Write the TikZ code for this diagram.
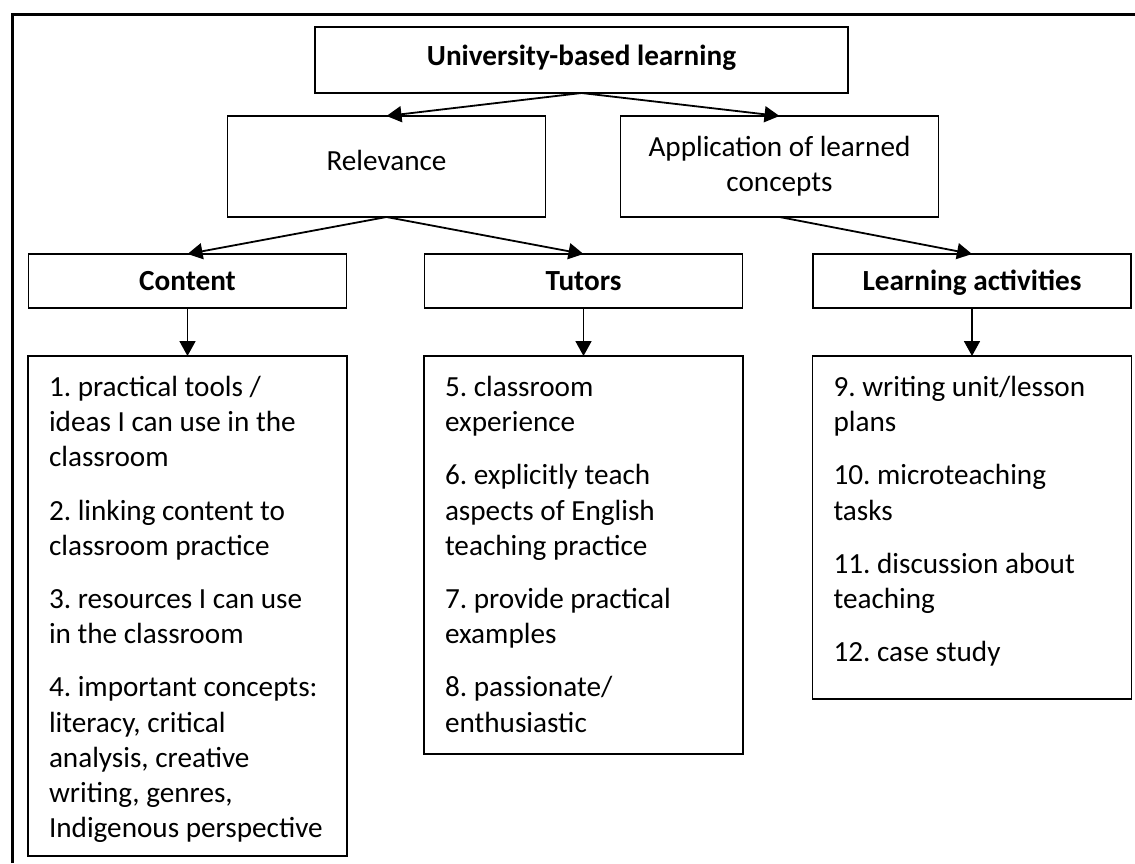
\documentclass[tikz,border=0pt]{standalone}
\usepackage{fontspec}
\setmainfont{Carlito}
\frenchspacing
\usetikzlibrary{arrows.meta,positioning}
\tikzset{
  basic/.style   = {draw, rectangle, outer sep=0pt, inner sep=0pt,
                    font=\fontsize{29.2}{35.2}\selectfont},
  root/.style    = {basic, font=\fontsize{29.2}{35.2}\selectfont\bfseries,
                    text height=18pt, text depth=8pt,
                    minimum width=533pt, minimum height=66pt},
  level 2/.style = {basic, align=flush center, minimum width=318pt, minimum height=101pt},
  level 3/.style = {basic, font=\fontsize{29.2}{35.2}\selectfont\bfseries,
                    text height=22pt, text depth=4pt,
                    minimum width=318pt, minimum height=54pt},
  level 4/.style = {basic, align=flush left, text width=277pt, inner xsep=21pt,
                    inner ysep=15.5pt, text height=25pt}
}

\begin{document}
\begin{tikzpicture}[x=1pt, y=-1pt, line width=1.8pt,
  >={Triangle[length=15pt,width=16pt]}]
\useasboundingbox (0,0) rectangle (1135,863);
% frame, cut off at the right and at the bottom
\draw[line width=3pt] (12,863) -- (12,14) -- (1135,14);

% root of the tree
\node[root] (u) at (581.5,60) {University-based learning};

% second level
\node[level 2, below=23pt of u, xshift=-195pt] (u1) {\raisebox{13pt}{Relevance}};
\node[level 2, below=23pt of u, xshift=198pt] (u2) {Application of learned\\concepts};

% third level, the headings
\node[level 3, below=37pt of u1, xshift=-199pt] (c1) {Content};
\node[level 3, below=37pt of u1, xshift=197pt] (c2) {Tutors};
\node[level 3, below=37pt of u2, xshift=192.5pt] (c3) {Learning activities};

% the lists under each heading
\node[level 4, below=48pt of c1, text depth=444pt] (c11)
  {1. practical tools /\\ideas I can use in the\\classroom\\[18pt]
   2. linking content to\\classroom practice\\[18pt]
   3. resources I can use\\in the classroom\\[18pt]
   4. important concepts:\\literacy, critical\\analysis, creative\\writing, genres,\\Indigenous perspective};
\node[level 4, below=48pt of c2, text depth=342pt] (c21)
  {5. classroom\\experience\\[18pt]
   6. explicitly teach\\aspects of English\\teaching practice\\[18pt]
   7. provide practical\\examples\\[18pt]
   8. passionate/\\enthusiastic};
\node[level 4, below=48pt of c3, text depth=287pt] (c31)
  {9. writing unit/lesson\\plans\\[18pt]
   10. microteaching\\tasks\\[18pt]
   11. discussion about\\teaching\\[18pt]
   12. case study};

% arrows
\foreach \n in {1,2}
  \draw[->] (u.south) -- (u\n.north);
\draw[->] (u1.south) -- (c1.north);
\draw[->] (u1.south) -- (c2.north);
\draw[->] (u2.south) -- (c3.north);
\foreach \n in {1,...,3}
  \draw[->] (c\n.south) -- (c\n1.north);
\end{tikzpicture}
\end{document}
